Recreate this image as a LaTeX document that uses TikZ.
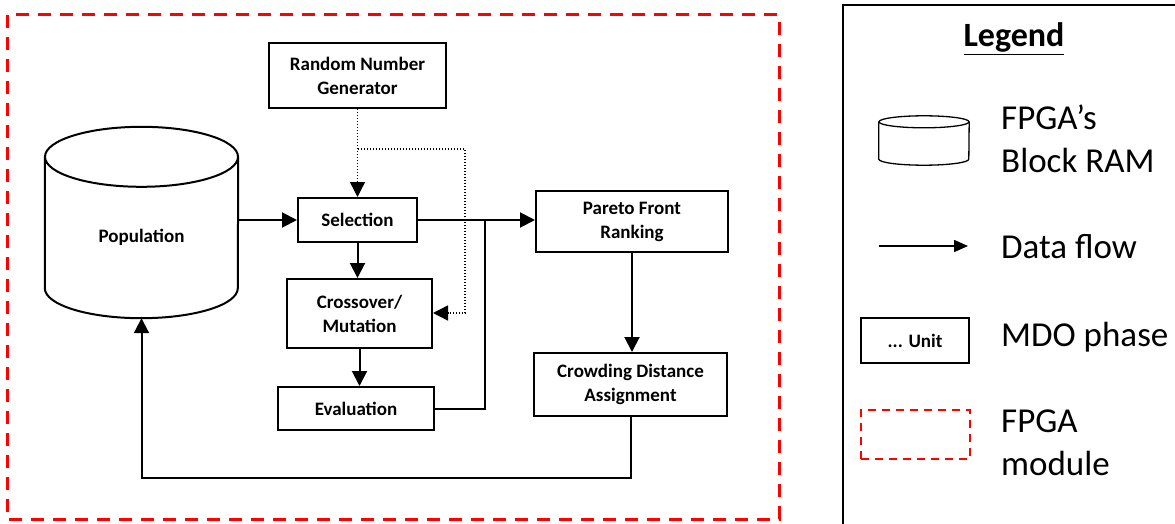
\documentclass[tikz,border=0pt]{standalone}
\usepackage{fontspec}
\setmainfont{Carlito}
\usetikzlibrary{arrows.meta}
\begin{document}
\begin{tikzpicture}[x=1pt,y=-1pt,
  unitbox/.style={draw,line width=2pt,inner sep=0pt,align=center,
    font=\bfseries\fontsize{19}{24}\selectfont},
  arr/.style={line width=2pt,-{Triangle[length=15pt,width=15pt]}},
  flow/.style={line width=2pt},
  dotline/.style={line width=1.4pt,dash pattern=on 1.4pt off 1.6pt},
  dotarr/.style={dotline,-{Triangle[length=15pt,width=15pt]}},
  legtext/.style={anchor=base west,inner sep=0pt,align=left,font=\fontsize{35}{43}\selectfont},
  cyl/.style={line width=2pt}]
\useasboundingbox (0,0) rectangle (1175,524);
\clip (0,0) rectangle (1175,524);
% FPGA module frame
\draw[red,line width=3pt,dash pattern=on 13pt off 9pt] (7,15) rectangle (779,519);
% population cylinder
\node[minimum width=193pt,minimum height=191pt,inner sep=0pt] (pop) at (141.5,222.5) {};
\draw[cyl] ([yshift=-30pt]pop.north) ellipse [x radius=96.5pt,y radius=30pt];
\draw[cyl] ([yshift=-30pt]pop.north west) -- ([yshift=30pt]pop.south west)
  arc[start angle=180,end angle=360,x radius=96.5pt,y radius=30pt] -- ([yshift=-30pt]pop.north east);
\node[font=\bfseries\fontsize{19}{24}\selectfont] (poptext) at (141.5,237) {Population};
% units
\node[unitbox,minimum width=177pt,minimum height=65pt] (rng) at (357.5,75.5) {Random Number\\Generator};
\node[unitbox,minimum width=119pt,minimum height=44pt] (sel) at (357.5,220) {Selection};
\node[unitbox,minimum width=145pt,minimum height=69pt] (cm) at (359.5,313.5) {Crossover/\\Mutation};
\node[unitbox,minimum width=156pt,minimum height=43pt] (ev) at (356,408.5) {Evaluation};
\node[unitbox,minimum width=192pt,minimum height=61pt] (par) at (632,221.5) {Pareto Front\\Ranking};
\node[unitbox,minimum width=193pt,minimum height=63pt] (cd) at (630.5,384.5) {Crowding Distance\\Assignment};
% helper coordinates
\coordinate (j) at (485,220);
\coordinate (b1) at (358,149);
\coordinate (d2) at (465,313);
\coordinate (lowy) at (0,478);
% connectors
\draw[arr] (sel.west -| pop.east) -- (sel.west);
\draw[arr] (sel.south) -- (sel.south |- cm.north);
\draw[arr] (cm.south) -- (cm.south |- ev.north);
\draw[arr] (sel.east) -- (sel.east -| par.west);
\draw[flow] (ev.east) -| (j);
\draw[dotarr] (rng.south) -- (sel.north);
\draw[dotarr] (b1) -| (d2) -- (d2 -| cm.east);
\draw[arr] (par.south) -- (par.south |- cd.north);
\draw[arr] (cd.south) |- (pop.south |- lowy) -- (pop.south);
% legend
\draw[line width=1.5pt] (843,5) rectangle (1200,560);
\node[font=\bfseries\fontsize{34}{40}\selectfont,anchor=base,inner sep=0pt] (legtitle) at (1014,47) {\underline{Legend}};
\node[minimum width=90pt,minimum height=49pt,inner sep=0pt] (lcyl) at (924,140.5) {};
\draw[line width=1.3pt] ([yshift=-6pt]lcyl.north) ellipse [x radius=45pt,y radius=6pt];
\draw[line width=1.3pt] ([yshift=-6pt]lcyl.north west) -- ([yshift=6pt]lcyl.south west)
  arc[start angle=180,end angle=360,x radius=45pt,y radius=6pt] -- ([yshift=-6pt]lcyl.north east);
\node[legtext] (l1) at (1001,172) {FPGA’s\\Block RAM};
\coordinate (la1) at (879,246);
\coordinate (la2) at (968,246);
\draw[line width=1.4pt,-{Triangle[length=14pt,width=12pt]}] (la1) -- (la2);
\node[legtext] (l2) at (1001,258) {Data flow};
\node[draw,line width=1.6pt,minimum width=108pt,minimum height=45pt,inner sep=0pt,
  font=\bfseries\fontsize{19}{22}\selectfont] (lunit) at (915,340.5) {... Unit};
\node[legtext] (l3) at (1001,346) {MDO phase};
\node[draw=red,line width=2pt,dash pattern=on 8pt off 6pt,minimum width=109pt,minimum height=49pt,inner sep=0pt] (lmod) at (915.5,434.5) {};
\node[legtext] (l4) at (1001,475) {FPGA\\module};
\end{tikzpicture}
\end{document}
